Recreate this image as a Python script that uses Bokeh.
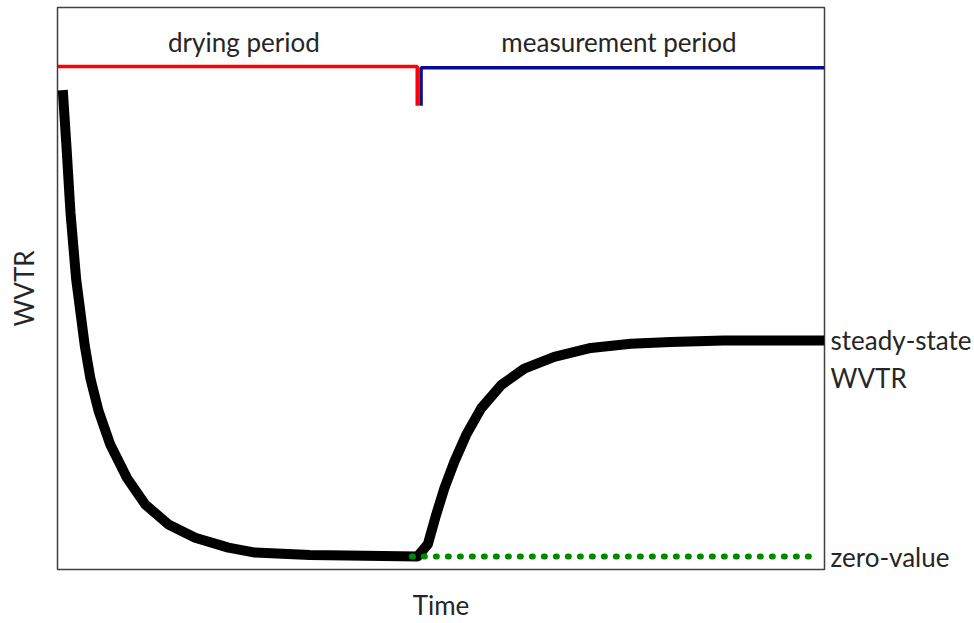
from bokeh.plotting import figure
from bokeh.models import Label, Range1d, LinearAxis, FixedTicker
from bokeh.embed import file_html
from bokeh.resources import INLINE

# --- data (normalised units: Time 0-100, WVTR 0-100) ---
curve_time = [0.69, 1.17, 1.69, 2.43, 3.55, 4.29, 5.37, 6.89, 9.06, 11.44, 14.47, 17.95, 22.28,
              25.75, 32.9, 42.4, 46.94,
              48.28, 49.38, 50.45, 51.76, 53.28, 55.23, 57.83, 60.86, 64.76, 69.53, 74.73,
              79.93, 86.87, 100.0]
curve_wvtr = [85.31, 75.27, 63.54, 51.68, 39.88, 33.98, 28.14, 22.18, 16.28, 11.56, 8.02, 5.66, 3.89,
              3.01, 2.57, 2.39, 2.30,
              4.48, 9.79, 14.51, 19.24, 23.95, 28.67, 32.80, 35.75, 37.82, 39.42, 40.18,
              40.48, 40.76, 40.76]

drying_x = [0.0, 46.9, 46.9]
drying_y = [89.5, 89.5, 82.5]
measure_x = [47.4, 47.4, 100.0]
measure_y = [82.5, 89.3, 89.3]
zero_x = [46.2, 98.6]
zero_y = [2.3, 2.3]

steady_level = 40.76
zero_level = 2.3
wvtr_line2 = 34.0

FONT = "Lato"
TXT = "#262626"
FS = "26px"

p = figure(width=974, height=623, output_backend="svg", toolbar_location=None,
           x_range=Range1d(0, 100), y_range=Range1d(0, 100),
           min_border_left=57, min_border_right=148, min_border_top=7, min_border_bottom=51)
p.grid.visible = False
p.outline_line_color = "#404040"
p.outline_line_width = 1.5
p.background_fill_color = "white"
p.border_fill_color = "white"

def style_axis(ax):
    ax.axis_line_color = None
    ax.major_tick_line_color = None
    ax.minor_tick_line_color = None
    ax.major_tick_out = 0
    ax.major_tick_in = 0
    ax.minor_tick_out = 0
    ax.axis_label_text_font = FONT
    ax.axis_label_text_font_size = FS
    ax.axis_label_text_font_style = "normal"
    ax.axis_label_text_color = TXT
    ax.major_label_text_font = FONT
    ax.major_label_text_font_size = FS
    ax.major_label_text_color = TXT

for ax in (p.xaxis[0], p.yaxis[0]):
    ax.ticker = FixedTicker(ticks=[])
    style_axis(ax)
    ax.major_label_standoff = 0
p.xaxis[0].axis_label = "Time"
p.xaxis[0].axis_label_standoff = 19
p.yaxis[0].axis_label = "WVTR"
p.yaxis[0].axis_label_standoff = 18

right = LinearAxis(ticker=FixedTicker(ticks=[steady_level, wvtr_line2, zero_level]),
                   major_label_overrides={steady_level: "steady-state",
                                          wvtr_line2: "WVTR",
                                          zero_level: "zero-value"})
style_axis(right)
right.major_label_standoff = 6
p.add_layout(right, "right")

p.line(drying_x, drying_y, line_color="#ff0000", line_width=3.5)
p.line(measure_x, measure_y, line_color="#0a0a8c", line_width=3.5)
p.line(curve_time, curve_wvtr, line_color="black", line_width=10, line_join="round")
p.line(zero_x, zero_y, line_color="#008a00", line_width=6, line_dash="1 11", line_cap="round")

for x, t in ((24.3, "drying period"), (73.2, "measurement period")):
    p.add_layout(Label(x=x, y=93.8, text=t, text_font=FONT, text_font_size=FS,
                       text_color=TXT, text_align="center", text_baseline="middle"))

open("out.html", "w").write(file_html(p, INLINE))
